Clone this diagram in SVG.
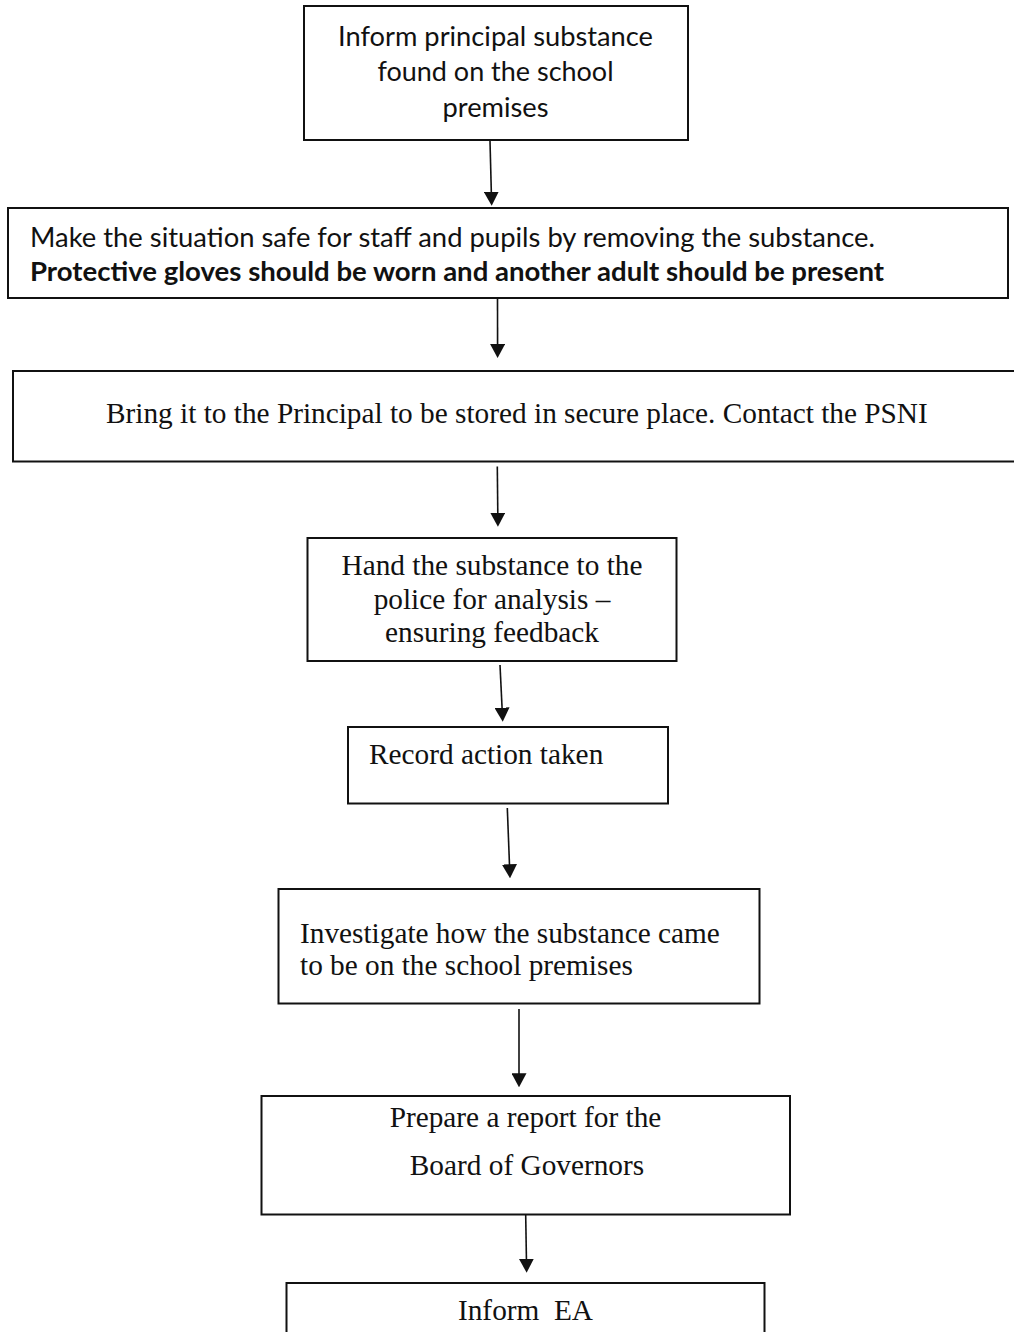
<svg xmlns="http://www.w3.org/2000/svg" width="1014" height="1332" viewBox="0 0 1014 1332">
<defs>
<style>
.box{fill:#fff;stroke:#111;stroke-width:2}
.conn{stroke:#111;stroke-width:1.6;fill:none}
.sans{font-family:Lato,"Open Sans","Liberation Sans",sans-serif;font-size:27px;fill:#111}
.bold{font-weight:bold}
.serif{font-family:"Liberation Serif","Times New Roman",serif;font-size:29.3px;fill:#111}
.mid{text-anchor:middle}
</style>
<marker id="arr" markerUnits="userSpaceOnUse" viewBox="0 0 14 15" markerWidth="14" markerHeight="15" refX="11" refY="7.5" orient="auto">
<path d="M0,0 L14,7.5 L0,15 z" fill="#111"/>
</marker>
</defs>
<rect width="1014" height="1332" fill="#fff"/>

<g id="node1">
<rect class="box" x="304" y="6" width="384" height="134"/>
<text class="sans mid" x="495.5" y="45.5" textLength="315" lengthAdjust="spacingAndGlyphs">Inform principal substance</text>
<text class="sans mid" x="495.5" y="81" textLength="236" lengthAdjust="spacingAndGlyphs">found on the school</text>
<text class="sans mid" x="495.5" y="116.5" textLength="106" lengthAdjust="spacingAndGlyphs">premises</text>
</g>

<g id="node2">
<rect class="box" x="8" y="208" width="1000" height="90"/>
<text class="sans" x="30" y="246.5" textLength="845" lengthAdjust="spacingAndGlyphs">Make the situation safe for staff and pupils by removing the substance.</text>
<text class="sans bold" x="30" y="281" textLength="854" lengthAdjust="spacingAndGlyphs">Protective gloves should be worn and another adult should be present</text>
</g>

<g id="node3">
<rect class="box" x="13" y="371" width="1010" height="90.5"/>
<text class="serif" x="106" y="422.7">Bring it to the Principal to be stored in secure place. Contact the PSNI</text>
</g>

<g id="node4">
<rect class="box" x="307.5" y="538" width="369" height="123"/>
<text class="serif mid" x="492" y="575">Hand the substance to the</text>
<text class="serif mid" x="492" y="608.5">police for analysis –</text>
<text class="serif mid" x="492" y="642">ensuring feedback</text>
</g>

<g id="node5">
<rect class="box" x="348" y="727" width="320" height="76.5"/>
<text class="serif" x="369" y="764">Record action taken</text>
</g>

<g id="node6">
<rect class="box" x="278.5" y="889" width="481" height="114.5"/>
<text class="serif" x="300" y="942.7">Investigate how the substance came</text>
<text class="serif" x="300" y="975">to be on the school premises</text>
</g>

<g id="node7">
<rect class="box" x="261.5" y="1096" width="528.5" height="118.5"/>
<text class="serif mid" x="525.5" y="1126.7">Prepare a report for the</text>
<text class="serif mid" x="527" y="1175">Board of Governors</text>
</g>

<g id="node8">
<rect class="box" x="286.5" y="1283" width="478" height="70"/>
<text class="serif mid" x="525.5" y="1320" xml:space="preserve">Inform  EA</text>
</g>

<g id="connectors">
<line class="conn" x1="490" y1="141" x2="491.6" y2="202.7" marker-end="url(#arr)"/>
<line class="conn" x1="497.5" y1="299" x2="497.6" y2="355" marker-end="url(#arr)"/>
<line class="conn" x1="497.3" y1="466.5" x2="497.9" y2="523.7" marker-end="url(#arr)"/>
<line class="conn" x1="500" y1="665" x2="502.6" y2="718.7" marker-end="url(#arr)"/>
<line class="conn" x1="507.3" y1="808" x2="509.9" y2="875.3" marker-end="url(#arr)"/>
<line class="conn" x1="519" y1="1009" x2="519" y2="1084.3" marker-end="url(#arr)"/>
<line class="conn" x1="525.7" y1="1215" x2="526.6" y2="1269.7" marker-end="url(#arr)"/>
</g>
</svg>
